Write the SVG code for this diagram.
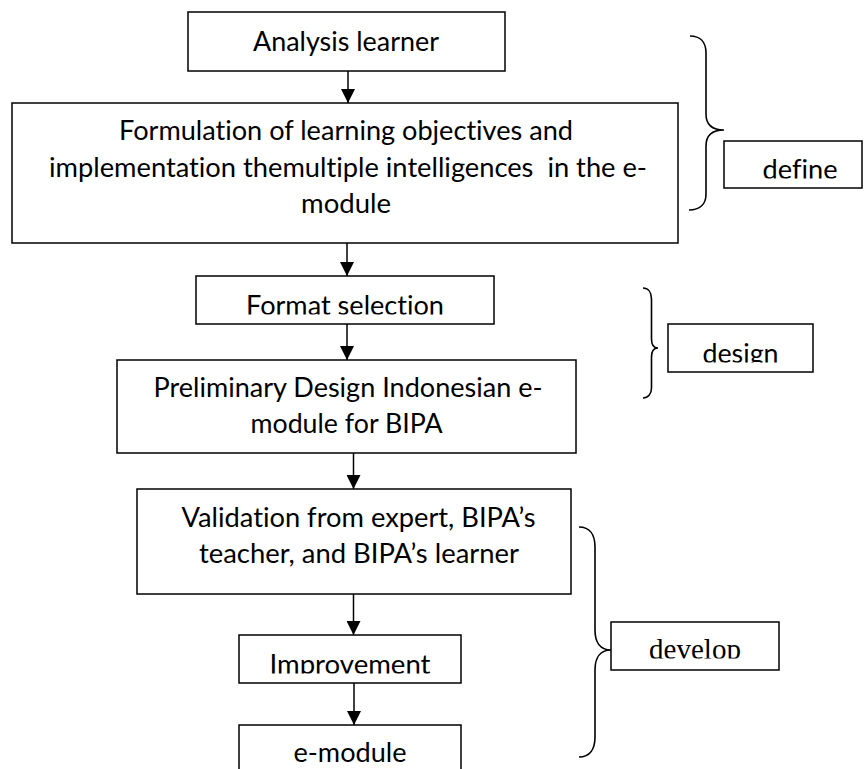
<svg xmlns="http://www.w3.org/2000/svg" width="865" height="769" viewBox="0 0 865 769">
  <style>
    .box { fill: #ffffff; stroke: #000000; stroke-width: 1.5; }
    .t { font-family: Lato, "Open Sans", "Liberation Sans", sans-serif; font-size: 26px; fill: #000000; text-anchor: middle; font-variant-ligatures: none; }
    .ts { font-family: "Liberation Serif", "Times New Roman", serif; font-size: 29px; fill: #000000; text-anchor: middle; }
    .conn { stroke: #000000; stroke-width: 1.5; fill: none; }
    .brace { stroke: #000000; stroke-width: 1.6; fill: none; }
  </style>
  <defs>
    <marker id="arrow" markerUnits="userSpaceOnUse" markerWidth="14" markerHeight="14" refX="14" refY="7" orient="auto" viewBox="0 0 14 14">
      <path d="M0,0 L14,7 L0,14 Z" fill="#000000"/>
    </marker>
    <clipPath id="clipFormat"><rect x="196" y="276" width="298" height="38.5"/></clipPath>
    <clipPath id="clipImprove"><rect x="239" y="635" width="222" height="38.5"/></clipPath>
    <clipPath id="clipDefine"><rect x="724" y="141" width="138" height="37.5"/></clipPath>
    <clipPath id="clipDesign"><rect x="668" y="324" width="145" height="38.5"/></clipPath>
    <clipPath id="clipDevelop"><rect x="611" y="622" width="168" height="36.5"/></clipPath>
  </defs>

  <g id="connectors">
    <line class="conn" x1="348" y1="71" x2="348" y2="103" marker-end="url(#arrow)"/>
    <line class="conn" x1="347" y1="243" x2="347" y2="276" marker-end="url(#arrow)"/>
    <line class="conn" x1="347" y1="324" x2="347" y2="360" marker-end="url(#arrow)"/>
    <line class="conn" x1="353.5" y1="453" x2="353.5" y2="489" marker-end="url(#arrow)"/>
    <line class="conn" x1="353.5" y1="594" x2="353.5" y2="635" marker-end="url(#arrow)"/>
    <line class="conn" x1="354" y1="683" x2="354" y2="725" marker-end="url(#arrow)"/>
  </g>

  <g id="node-analysis">
    <rect class="box" x="188" y="12" width="317" height="59"/>
    <text class="t" x="346" y="50.5" textLength="186" lengthAdjust="spacingAndGlyphs">Analysis learner</text>
  </g>

  <g id="node-formulation">
    <rect class="box" x="12" y="103" width="666" height="140"/>
    <text class="t" x="346" y="140" textLength="454" lengthAdjust="spacingAndGlyphs">Formulation of learning objectives and</text>
    <text class="t" x="348" y="176.5" textLength="598" lengthAdjust="spacingAndGlyphs" xml:space="preserve">implementation themultiple intelligences  in the e-</text>
    <text class="t" x="346" y="213" textLength="90" lengthAdjust="spacingAndGlyphs">module</text>
  </g>

  <g id="node-format">
    <rect class="box" x="196" y="276" width="298" height="48"/>
    <text class="t" x="345" y="315" textLength="198" lengthAdjust="spacingAndGlyphs" clip-path="url(#clipFormat)">Format selection</text>
  </g>

  <g id="node-preliminary">
    <rect class="box" x="117" y="360" width="459" height="93"/>
    <text class="t" x="348" y="397" textLength="389" lengthAdjust="spacingAndGlyphs">Preliminary Design Indonesian e-</text>
    <text class="t" x="346.5" y="433" textLength="192" lengthAdjust="spacingAndGlyphs">module for BIPA</text>
  </g>

  <g id="node-validation">
    <rect class="box" x="137" y="489" width="434" height="105"/>
    <text class="t" x="358.5" y="527" textLength="354" lengthAdjust="spacingAndGlyphs">Validation from expert, BIPA’s</text>
    <text class="t" x="359" y="562.5" textLength="320" lengthAdjust="spacingAndGlyphs">teacher, and BIPA’s learner</text>
  </g>

  <g id="node-improvement">
    <rect class="box" x="239" y="635" width="222" height="48"/>
    <text class="t" x="350" y="674" textLength="161" lengthAdjust="spacingAndGlyphs" clip-path="url(#clipImprove)">Improvement</text>
  </g>

  <g id="node-emodule">
    <rect class="box" x="239" y="725" width="222" height="60"/>
    <text class="t" x="350" y="762" textLength="113" lengthAdjust="spacingAndGlyphs">e-module</text>
  </g>

  <g id="brace-define">
    <path class="brace" d="M690,36 C700,36 706,42 706,53 L706,114 C706,124 712,130 724,130 C712,130 706,136 706,146 L706,194 C706,204 700,210 689,210"/>
  </g>
  <g id="node-define">
    <rect class="box" x="724" y="141" width="138" height="47"/>
    <text class="t" x="800" y="179" textLength="75" lengthAdjust="spacingAndGlyphs" clip-path="url(#clipDefine)">define</text>
  </g>

  <g id="brace-design">
    <path class="brace" d="M643,288 C648,288 651.5,292 651.5,299 L651.5,339 C651.5,345 653,348 658,348 C653,348 651.5,351 651.5,357 L651.5,388 C651.5,394 648,398 643,398"/>
  </g>
  <g id="node-design">
    <rect class="box" x="668" y="324" width="145" height="48"/>
    <text class="t" x="740.5" y="363" textLength="76" lengthAdjust="spacingAndGlyphs" clip-path="url(#clipDesign)">design</text>
  </g>

  <g id="brace-develop">
    <path class="brace" d="M579,527 C590,527 595,535 595,547 L595,630 C595,642 600,650 611,650 C600,650 595,658 595,670 L595,737 C595,749 590,757 579,757"/>
  </g>
  <g id="node-develop">
    <rect class="box" x="611" y="622" width="168" height="48"/>
    <text class="ts" x="695" y="659" clip-path="url(#clipDevelop)">develop</text>
  </g>
</svg>
